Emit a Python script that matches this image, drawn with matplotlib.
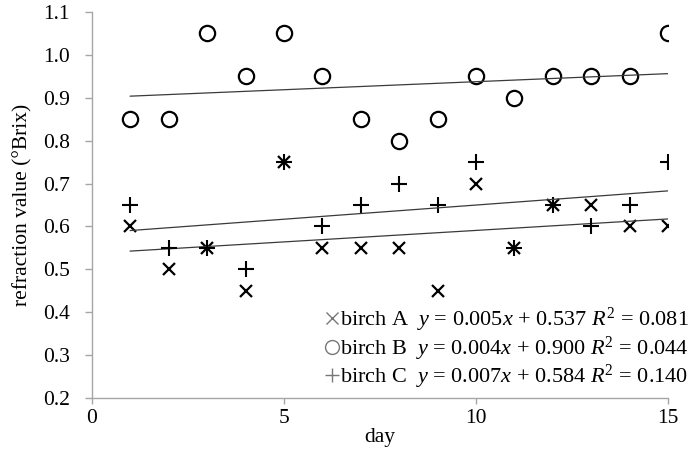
import numpy as np
import matplotlib
matplotlib.use("Agg")
import matplotlib.pyplot as plt
from matplotlib.lines import Line2D

plt.rcParams["font.family"] = ["Liberation Serif", "DejaVu Serif"]
plt.rcParams["mathtext.fontset"] = "custom"
plt.rcParams["mathtext.rm"] = "Liberation Serif"
plt.rcParams["mathtext.it"] = "Liberation Serif:italic"

# refraction values, days 1..15
days = np.arange(1, 16)
birch_a = [0.60, 0.50, 0.55, 0.45, 0.75, 0.55, 0.55, 0.55, 0.45, 0.70, 0.55, 0.65, 0.65, 0.60, 0.60]
birch_b = [0.85, 0.85, 1.05, 0.95, 1.05, 0.95, 0.85, 0.80, 0.85, 0.95, 0.90, 0.95, 0.95, 0.95, 1.05]
birch_c = [0.65, 0.55, 0.55, 0.50, 0.75, 0.60, 0.65, 0.70, 0.65, 0.75, 0.55, 0.65, 0.60, 0.65, 0.75]

legend_labels = [
    r"birch A  $y$ = 0.005$x$ + 0.537 $R^2$ = 0.081",
    r"birch B  $y$ = 0.004$x$ + 0.900 $R^2$ = 0.044",
    r"birch C  $y$ = 0.007$x$ + 0.584 $R^2$ = 0.140",
]

AXIS_GRAY = "#a6a6a6"

fig = plt.figure(figsize=(6.96, 4.49), dpi=100)
ax = fig.add_axes([0.132, 0.1136, 0.828, 0.8597])

series = [
    (birch_a, "x", 9, 1.6),
    (birch_b, "o", 11, 1.6),
    (birch_c, "+", 11, 1.5),
]
for values, marker, size, mew in series:
    ax.plot(days, values, linestyle="none", marker=marker, markersize=size,
            markerfacecolor="none", markeredgecolor="black", markeredgewidth=mew)
    slope, intercept = np.polyfit(days, values, 1)
    ax.plot(days[[0, -1]], slope * days[[0, -1]] + intercept,
            color="#3a3a3a", linewidth=0.9)

ax.set_xlim(0, 15)
ax.set_ylim(0.2, 1.1)
ax.set_xticks([0, 5, 10, 15])
ax.set_yticks(np.arange(0.2, 1.101, 0.1))
ax.yaxis.set_major_formatter(matplotlib.ticker.FormatStrFormatter("%.1f"))

for side in ("top", "right"):
    ax.spines[side].set_visible(False)
for side in ("left", "bottom"):
    ax.spines[side].set_color(AXIS_GRAY)
    ax.spines[side].set_linewidth(1.0)

ax.tick_params(axis="y", direction="out", length=5, width=1, color=AXIS_GRAY,
               pad=11, labelsize=15.5)
ax.tick_params(axis="x", direction="out", length=4, width=1, color=AXIS_GRAY,
               pad=4, labelsize=15.5)

ax.set_xlabel("day", fontsize=15.5, labelpad=0)
ax.set_ylabel("refraction value (°Brix)", fontsize=15.5, labelpad=7)

handles = [
    Line2D([], [], linestyle="none", marker=m, markersize=s - 1,
           markerfacecolor="none", markeredgecolor="#777777", markeredgewidth=1.0)
    for _, m, s, _ in series
]
ax.legend(handles, legend_labels, loc="lower right", bbox_to_anchor=(1.056, -0.01),
          frameon=False, fontsize=16, handlelength=0.6, handletextpad=0.1,
          labelspacing=0.0, borderpad=0.0)

fig.savefig("out.png", dpi=100)
